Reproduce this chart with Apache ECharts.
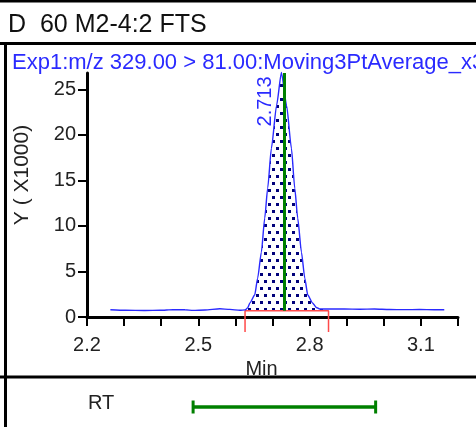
<!DOCTYPE html>
<html>
<head>
<meta charset="utf-8">
<script src="https://cdn.jsdelivr.net/npm/echarts@6/dist/echarts.min.js"></script>
<style>
  html, body { margin: 0; padding: 0; background: #fff; }
  #chart { width: 476px; height: 427px; }
</style>
</head>
<body>
<div id="chart"></div>
<script>
// 色谱数据 (min, counts)
var rtMin = [2.263, 2.303, 2.357, 2.397, 2.432, 2.464, 2.486, 2.518, 2.558, 2.585, 2.612, 2.626, 2.633,
  2.639, 2.652, 2.660, 2.670, 2.679, 2.687, 2.697, 2.711, 2.724, 2.738, 2.751, 2.760, 2.768,
  2.778, 2.787, 2.795, 2.808, 2.818, 2.827, 2.851, 2.894, 2.935, 2.975, 3.015, 3.056, 3.096, 3.136, 3.163];
var intensity = [800, 745, 710, 735, 810, 790, 725, 770, 900, 835, 735, 780, 1000,
  1535, 2410, 4275, 7130, 10855, 14145, 18530, 23245, 26865, 23245, 18530, 14145, 10855,
  7130, 4275, 2410, 1535, 1050, 880, 880, 880, 855, 880, 820, 810, 820, 800, 800];

// 坐标轴刻度
var xTickLabels = [2.2, 2.5, 2.8, 3.1];
var yTicks = [0, 5000, 10000, 15000, 20000, 25000];

// 积分区间 / RT
var intRange = [2.626, 2.851];
var intBase = 690;
var intFoot = -1650;
var rtLine = 2.732;
var rtWindow = [2.486, 2.978];
var apexLabel = '2.713';
var apexLabelPos = [2.6806, 23680];

var FONT = 'Liberation Sans, Arial, sans-serif';
var BLUE = '#2a2aff';
var GREEN = '#008000';

function dotPattern() {
  var c = document.createElement('canvas');
  c.width = 8;
  c.height = 14;
  var ctx = c.getContext('2d');
  ctx.fillStyle = '#00007a';
  ctx.fillRect(0, 0, 3, 3);
  ctx.fillRect(4, 7, 3, 3);
  return c;
}

var trace = rtMin.map(function(t, i) { return [t, intensity[i]]; });
var peak = trace.filter(function(p) { return p[0] >= intRange[0] && p[0] <= intRange[1]; });

var myChart = echarts.init(document.getElementById('chart'), null, { renderer: 'canvas' });

var option = {
  animation: false,
  backgroundColor: '#fff',
  textStyle: { fontFamily: FONT },
  title: [{
    text: 'D  60 M2-4:2 FTS',
    left: 3, top: 8,
    textStyle: { fontFamily: FONT, fontSize: 25, fontWeight: 'normal', color: '#111' }
  }, {
    text: 'Exp1:m/z 329.00 > 81.00:Moving3PtAverage_x3',
    left: 7, top: 47,
    textStyle: { fontFamily: FONT, fontSize: 22, fontWeight: 'normal', color: BLUE }
  }],
  grid: [
    { left: 87, right: 18, top: 73, bottom: 110 },
    { left: 87, right: 18, top: 397, height: 20 }
  ],
  xAxis: [{
    type: 'value', min: 2.2, max: 3.2, interval: 0.1,
    splitLine: { show: false },
    axisLine: { lineStyle: { color: '#000', width: 3 } },
    axisTick: { show: true, inside: false, length: 9, lineStyle: { color: '#000', width: 2 } },
    axisLabel: {
      customValues: xTickLabels, margin: 18, fontSize: 20, color: '#222', fontFamily: FONT,
      formatter: function(v) { return v.toFixed(1); }
    },
    name: 'Min', nameLocation: 'middle', nameGap: 41,
    nameTextStyle: { fontSize: 20, color: '#222', fontFamily: FONT, padding: [0, 22, 0, 0] }
  }, {
    gridIndex: 1, type: 'value', min: 2.2, max: 3.2, show: false
  }],
  yAxis: [{
    type: 'value', min: 0, max: 26800,
    splitLine: { show: false },
    axisLine: { show: true, lineStyle: { color: '#000', width: 3 } },
    axisTick: { show: true, inside: false, customValues: yTicks, length: 9, lineStyle: { color: '#000', width: 2 } },
    axisLabel: {
      customValues: yTicks, margin: 11, fontSize: 20, color: '#222', fontFamily: FONT,
      padding: [6, 0, 0, 0],
      formatter: function(v) { return v / 1000; }
    },
    name: 'Y ( X1000)', nameLocation: 'middle', nameGap: 54,
    nameTextStyle: { fontSize: 21, color: '#222', fontFamily: FONT, padding: [0, 0, 0, 40] }
  }, {
    gridIndex: 1, type: 'value', min: -1, max: 1, show: false
  }],
  series: [{
    // 积分填充
    type: 'line',
    data: peak,
    smooth: 0.2,
    smoothMonotone: 'x',
    showSymbol: false,
    silent: true,
    lineStyle: { width: 0 },
    areaStyle: { color: { image: dotPattern(), repeat: 'repeat' }, opacity: 1, origin: intBase },
    z: 2
  }, {
    // 积分基线
    type: 'line',
    data: [[intRange[0], intFoot], [intRange[0], intBase], [intRange[1], intBase], [intRange[1], intFoot]],
    showSymbol: false,
    clip: false,
    silent: true,
    lineStyle: { color: '#ff4a4a', width: 1.5 },
    z: 3
  }, {
    // 色谱曲线
    type: 'line',
    data: trace,
    smooth: 0.2,
    smoothMonotone: 'x',
    showSymbol: false,
    clip: false,
    lineStyle: { color: BLUE, width: 1.4 },
    z: 4,
    markLine: {
      silent: true,
      symbol: ['none', 'none'],
      label: { show: false },
      lineStyle: { color: GREEN, width: 3, type: 'solid' },
      data: [[{ coord: [rtLine, intBase] }, { coord: [rtLine, 26800] }]]
    },
    markPoint: {
      silent: true,
      symbol: 'circle',
      symbolSize: 0,
      label: {
        show: true, position: 'inside', rotate: 90,
        formatter: apexLabel, fontSize: 20, color: BLUE, fontFamily: FONT
      },
      data: [{ coord: apexLabelPos }]
    }
  }, {
    // RT 窗口
    type: 'line',
    xAxisIndex: 1, yAxisIndex: 1,
    data: [[rtWindow[0], 0], [rtWindow[1], 0]],
    symbol: 'rect',
    symbolSize: [3, 13],
    showSymbol: true,
    itemStyle: { color: GREEN },
    lineStyle: { color: GREEN, width: 3.5 },
    silent: true
  }],
  graphic: [
    { type: 'line', shape: { x1: 0, y1: 1, x2: 476, y2: 1 }, style: { stroke: '#000', lineWidth: 3 } },
    { type: 'line', shape: { x1: 0, y1: 43.5, x2: 476, y2: 43.5 }, style: { stroke: '#000', lineWidth: 3 } },
    { type: 'line', shape: { x1: 5.5, y1: 43, x2: 5.5, y2: 427 }, style: { stroke: '#000', lineWidth: 3 } },
    { type: 'line', shape: { x1: 0, y1: 377, x2: 476, y2: 377 }, style: { stroke: '#000', lineWidth: 3 } },
    { type: 'text', left: 88, top: 393, style: { text: 'RT', fontSize: 20, fill: '#222', fontFamily: FONT } }
  ]
};

myChart.setOption(option);

window.addEventListener('resize', function() {
  myChart.resize();
});
</script>
</body>
</html>
